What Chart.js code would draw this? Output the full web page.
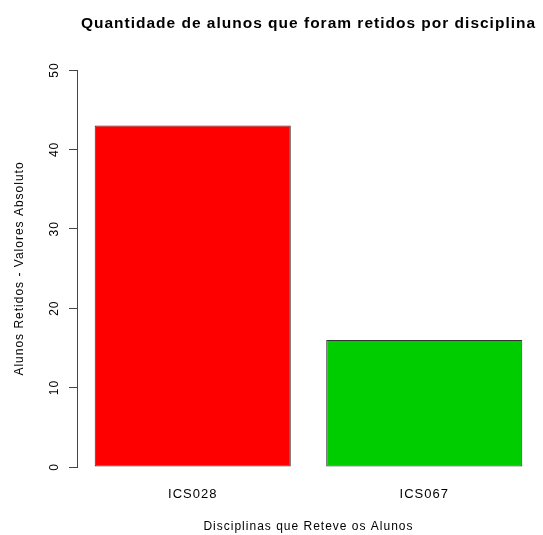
<!DOCTYPE html>
<html>
<head>
<meta charset="utf-8">
<script src="https://cdn.jsdelivr.net/npm/chart.js@4/dist/chart.umd.min.js"></script>
<style>
  html, body { margin: 0; padding: 0; background: #fff; }
  canvas { display: block; }
</style>
</head>
<body>
<canvas id="grafico" width="543" height="535"></canvas>
<script>
/* ===== dados ===== */
const disciplinas = ["ICS028", "ICS067"];
const retidos     = [43, 16];
const yMin = 0, yMax = 50, yPasso = 10;

/* ===== estilo ===== */
const coresBarras = ["#ff0000", "#00cd00"];
const fonte = "'Liberation Sans', Arial, sans-serif";

Chart.defaults.font.family = fonte;
Chart.defaults.color = "#000";

// texto do R sai mais espaçado que o do canvas
const espacamento = {
  id: "espacamento",
  beforeDraw: function (chart) { chart.ctx.letterSpacing = "1px"; }
};

new Chart(document.getElementById("grafico"), {
  type: "bar",
  data: {
    labels: disciplinas,
    datasets: [{
      data: retidos,
      backgroundColor: coresBarras,
      borderColor: "#333",
      borderWidth: 1,
      borderSkipped: false,
      categoryPercentage: 1,
      barPercentage: 0.847
    }]
  },
  plugins: [espacamento],
  options: {
    responsive: false,
    animation: false,
    layout: { padding: { left: 0, right: 3, top: 0, bottom: 0 } },
    plugins: {
      legend: { display: false },
      tooltip: { enabled: false },
      title: {
        display: true,
        fullSize: false,
        text: "Quantidade de alunos que foram retidos por disciplina",
        font: { size: 15.5, weight: "bold" },
        color: "#000",
        padding: { top: 14, bottom: 37.4 }
      }
    },
    scales: {
      x: {
        grid: { display: false, drawTicks: false },
        border: { display: false },
        ticks: { font: { size: 13 }, padding: 20, color: "#000" },
        title: {
          display: true,
          text: "Disciplinas que Reteve os Alunos",
          font: { size: 12 },
          color: "#000",
          padding: { top: 0, bottom: 1 }
        },
        afterFit: function (s) { s.height = 68; }
      },
      y: {
        min: yMin,
        max: yMax,
        grid: { drawOnChartArea: false, tickLength: 8, color: "#444" },
        border: { display: true, color: "#444" },
        ticks: {
          stepSize: yPasso,
          minRotation: 90,
          maxRotation: 90,
          crossAlign: "center",
          padding: 8,
          font: { size: 12 },
          color: "#000"
        },
        title: {
          display: true,
          text: "Alunos Retidos - Valores Absoluto",
          font: { size: 12 },
          color: "#000",
          padding: { top: 12, bottom: 0 }
        },
        afterFit: function (s) { s.width = 77; }
      }
    }
  }
});
</script>
</body>
</html>
